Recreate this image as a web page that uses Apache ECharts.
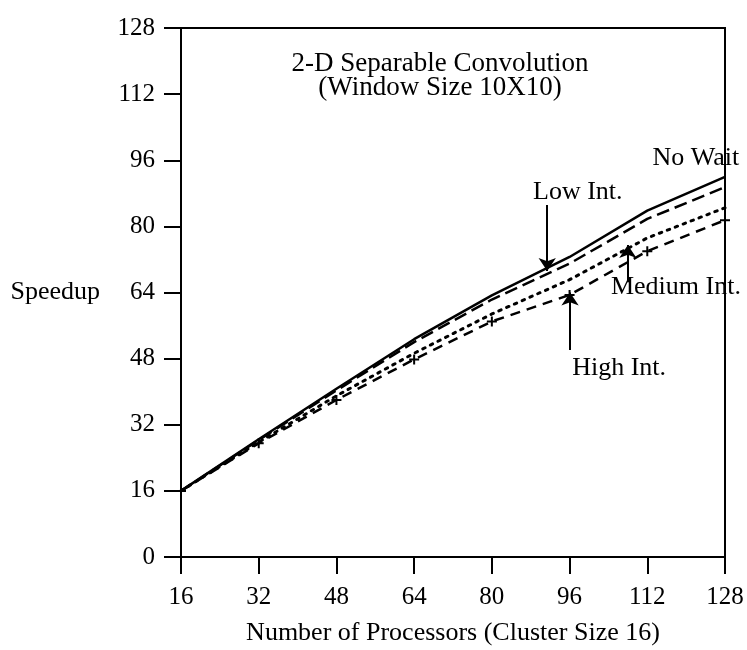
<!DOCTYPE html>
<html>
<head>
<meta charset="utf-8">
<script src="https://cdn.jsdelivr.net/npm/echarts@6/dist/echarts.min.js"></script>
<style>
html,body{margin:0;padding:0;background:#fff;}
#chart{width:747px;height:650px;}
</style>
</head>
<body>
<div id="chart"></div>
<script>
const processors = [16, 32, 48, 64, 80, 96, 112, 128];
const noWait   = [16, 28.5, 40.7, 52.7, 63.3, 72.6, 83.8, 92.0];
const lowInt   = [16, 28.3, 40.3, 52.0, 62.3, 71.0, 81.8, 89.5];
const medInt   = [16, 27.8, 39.0, 49.3, 58.8, 67.1, 77.2, 84.5];
const highInt  = [16, 27.5, 38.0, 47.8, 57.0, 63.4, 74.0, 81.5];
const xTicks = [16, 32, 48, 64, 80, 96, 112, 128];
const yTicks = [0, 16, 32, 48, 64, 80, 96, 112, 128];
const titleLines = ['2-D Separable Convolution', '(Window Size 10X10)'];

const FONT = '"Liberation Serif", "Times New Roman", serif';
const pair = (xs, ys) => xs.map((x, i) => [x, ys[i]]);

const textMark = (txt, coord) => ({
  coord: coord, symbol: 'circle', symbolSize: 0,
  label: { show: true, position: 'inside', formatter: txt, color: '#000', fontFamily: FONT, fontSize: 26 }
});
const arrow = (x, y0, y1) => ([{ coord: [x, y0] }, { coord: [x, y1] }]);
const arrowLine = (data) => ({
  silent: true, symbol: ['none', 'arrow'], symbolSize: 13,
  label: { show: false },
  lineStyle: { color: '#000', width: 2, type: 'solid' },
  itemStyle: { color: '#000' },
  data: data
});

const chart = echarts.init(document.getElementById('chart'), null, { renderer: 'canvas' });
chart.setOption({
  animation: false,
  backgroundColor: '#fff',
  title: {
    text: titleLines.join('\n'),
    left: 435, top: 47, textAlign: 'center',
    textStyle: { fontFamily: FONT, fontSize: 27, fontWeight: 'normal', color: '#000', lineHeight: 24 }
  },
  grid: {
    left: 181, right: 22, top: 28, bottom: 93,
    show: true, borderColor: '#000', borderWidth: 2, backgroundColor: 'transparent',
    containLabel: false, outerBoundsMode: 'none'
  },
  xAxis: {
    type: 'value', min: 16, max: 128, interval: 16,
    name: 'Number of Processors (Cluster Size 16)', nameLocation: 'middle', nameGap: 63,
    nameTextStyle: { fontFamily: FONT, fontSize: 26, color: '#000' },
    axisLine: { lineStyle: { color: '#000', width: 2 } },
    axisTick: { show: true, length: 17, lineStyle: { color: '#000', width: 2 } },
    axisLabel: { color: '#000', fontFamily: FONT, fontSize: 25, margin: 28,
      customValues: xTicks, formatter: v => String(v) },
    splitLine: { show: false }
  },
  yAxis: {
    type: 'value', min: 0, max: 128, interval: 16,
    name: 'Speedup', nameLocation: 'middle', nameGap: 81, nameRotate: 0,
    nameTextStyle: { fontFamily: FONT, fontSize: 26, color: '#000' },
    axisLine: { show: true, lineStyle: { color: '#000', width: 2 } },
    axisTick: { show: true, length: 17, lineStyle: { color: '#000', width: 2 } },
    axisLabel: { color: '#000', fontFamily: FONT, fontSize: 25, margin: 26,
      customValues: yTicks, formatter: v => String(v) },
    splitLine: { show: false }
  },
  series: [
    {
      name: 'No Wait', type: 'line', data: pair(processors, noWait),
      showSymbol: false, symbol: 'none', clip: false,
      lineStyle: { color: '#000', width: 2.5, type: 'solid' },
      markPoint: { silent: true, data: [textMark('No Wait', [122, 96.5])] }
    },
    {
      name: 'Low Int.', type: 'line', data: pair(processors, lowInt),
      showSymbol: false, symbol: 'none',
      lineStyle: { color: '#000', width: 2.5, type: [13, 6] },
      markPoint: { silent: true, data: [textMark('Low Int.', [97.7, 88.3])] },
      markLine: arrowLine([arrow(91.4, 85.2, 69.2)])
    },
    {
      name: 'Medium Int.', type: 'line', data: pair(processors, medInt),
      showSymbol: false, symbol: 'none',
      lineStyle: { color: '#000', width: 3, type: [2.5, 6], cap: 'round' },
      markPoint: { silent: true, data: [textMark('Medium Int.', [117.9, 65.3])] },
      markLine: arrowLine([arrow(108, 66.5, 75.5)])
    },
    {
      name: 'High Int.', type: 'line', data: pair(processors, highInt),
      showSymbol: true, symbol: 'path://M4,0H6V4H10V6H6V10H4V6H0V4H4Z', symbolSize: 10,
      itemStyle: { color: '#000' },
      lineStyle: { color: '#000', width: 2.5, type: [10, 7] },
      markPoint: { silent: true, data: [textMark('High Int.', [106.2, 45.7])] },
      markLine: arrowLine([arrow(96.1, 50.1, 64.0)])
    }
  ]
});
</script>
</body>
</html>
